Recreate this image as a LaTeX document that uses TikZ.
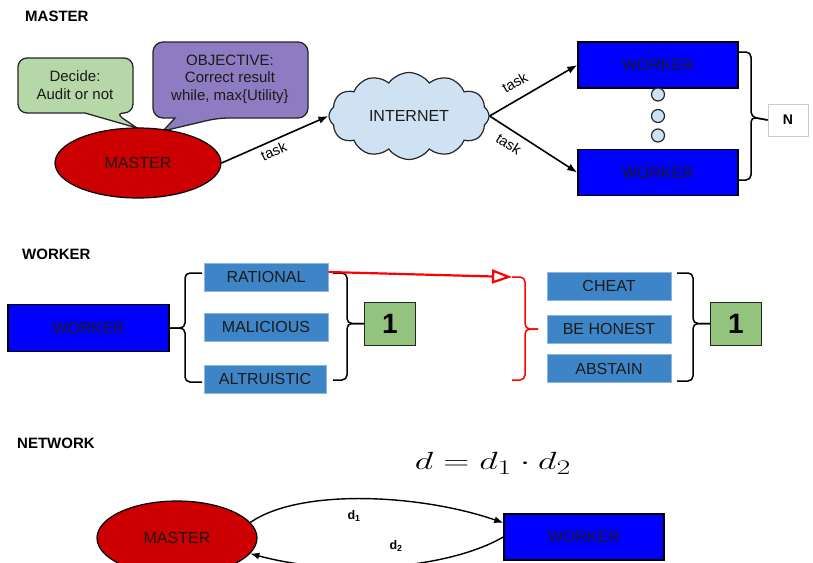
\documentclass[tikz,border=0pt]{standalone}
\usepackage{fontspec}
\setmainfont{Liberation Sans}
\usetikzlibrary{shapes.geometric,shapes.symbols,arrows.meta,calc}
\definecolor{mred}{HTML}{CC0000}
\definecolor{wblue}{HTML}{0000FF}
\definecolor{cgreen}{HTML}{B6D7A8}
\definecolor{cpurple}{HTML}{8E7CC3}
\definecolor{cloudc}{HTML}{CFE2F3}
\definecolor{bblue}{HTML}{3D85C6}
\definecolor{ngreen}{HTML}{93C47D}
\definecolor{txt}{HTML}{1A1A1A}
\begin{document}
\begin{tikzpicture}[x=1pt,y=-1pt,
  lab/.style={font=\fontsize{16}{19}\selectfont, text=txt},
  ttl/.style={font=\fontsize{15}{18}\selectfont\bfseries, anchor=west, inner sep=0pt},
  wbox/.style={draw=black, line width=1.5pt, fill=wblue, minimum width=160pt, minimum height=46pt, inner sep=0pt, lab},
  mell/.style={ellipse, draw=black, line width=1.2pt, fill=mred, inner sep=0pt, lab},
  bbox/.style={fill=bblue, draw=bblue!60!white, line width=0.6pt, minimum width=124pt, minimum height=28pt, inner sep=0pt, lab},
  nbox/.style={fill=ngreen, draw=black!85, line width=1pt, minimum width=51pt, minimum height=43pt, inner sep=0pt, font=\fontsize{28}{30}\selectfont\bfseries},
  arr/.style={line width=1.6pt, -{Latex[length=10pt,width=7.5pt]}},
  tasklab/.style={font=\fontsize{14.5}{16}\selectfont, inner sep=1pt, sloped},
  brc/.style={line width=1.5pt, rounded corners=5pt},
  rbrc/.style={line width=1.5pt, rounded corners=5pt, draw=red},
  dot/.style={circle, draw=black!85, line width=1.2pt, fill=cloudc, minimum size=13pt, inner sep=0pt},
  callout/.style={draw=black!85, line width=1.3pt}
]
\useasboundingbox (0,0) rectangle (813,562);

% ---------------- MASTER section ----------------
\node[ttl] (t1) at (25,16) {MASTER};

% callouts
\draw[callout, fill=cgreen] (75,58) [rounded corners=9pt] -- (133,58) -- (133,113) -- (115,113) [sharp corners] -- (137,128) -- (85,113) [rounded corners=9pt] -- (18,113) -- (18,58) -- cycle;
\node[lab, align=center, font=\fontsize{15}{18}\selectfont] (dec) at (75,85) {Decide:\\Audit or not};
\draw[callout, fill=cpurple] (230,42) [rounded corners=10pt] -- (308,42) -- (308,118) -- (218,118) [sharp corners] -- (163,131) -- (175,118) [rounded corners=10pt] -- (153,118) -- (153,42) -- cycle;
\node[lab, align=center, font=\fontsize{15}{17.5}\selectfont] (obj) at (230,79) {OBJECTIVE:\\Correct result\\while, max\{Utility\}};

\node[mell, minimum width=166pt, minimum height=70pt] (m1) at (138,163) {MASTER};

\node[cloud, cloud puffs=12, cloud puff arc=110, aspect=1.9, draw=black!85, line width=1.2pt, fill=cloudc, minimum width=160pt, minimum height=87pt, inner sep=0pt, lab] (net) at (409,116) {INTERNET};

\node[wbox] (w1) at (658,65) {WORKER};
\node[wbox] (w2) at (658,172.5) {WORKER};
\node[dot] (o1) at (658,94.5) {};
\node[dot] (o2) at (658,116) {};
\node[dot] (o3) at (658,135.5) {};

\node[draw=black!20, line width=0.8pt, fill=white, minimum width=40pt, minimum height=32pt, inner sep=0pt, font=\fontsize{14}{16}\selectfont\bfseries] (nn) at (788,120) {N};

\draw[arr] (m1.east) -- node[tasklab, below=3pt, pos=0.45] {task} (net.west);
\draw[arr] (net.east) -- node[tasklab, above=9pt, pos=0.38] {task} (w1.west);
\draw[arr] (net.east) -- node[tasklab, below=6pt, pos=0.3] {task} (w2.west);

\draw[brc] (739,52) -- (751,52) -- (751,117) -- (nn.west);
\draw[brc] (739,180) -- (751,180) -- (751,117) -- (nn.west);

% ---------------- WORKER section ----------------
\node[ttl] (t2) at (22,254) {WORKER};
\node[wbox, minimum width=161pt, minimum height=47pt] (wk) at (88.5,328) {WORKER};

\node[bbox] (r1) at (266,277) {RATIONAL};
\node[bbox] (r2) at (266,327) {MALICIOUS};
\node[bbox, minimum width=122pt] (r3) at (265,379) {ALTRUISTIC};

\node[nbox] (g1) at (390,323.5) {1};

\draw[brc] (202,273) -- (185,273) -- (185,328) -- (wk.east);
\draw[brc] (202,382) -- (185,382) -- (185,328) -- (wk.east);

\draw[brc] (333,273) -- (347,273) -- (347,323.5) -- (g1.west);
\draw[brc] (333,380) -- (347,380) -- (347,323.5) -- (g1.west);

\coordinate (rt) at (512,277);
\draw[red, line width=2.2pt, -{Triangle[open, length=20pt, width=14pt, line width=2.2pt]}] ([yshift=5pt]r1.east) -- (rt);

\draw[rbrc] (rt) -- (525,277) -- (525,329) -- (538,329);
\draw[rbrc] (512,380) -- (525,380) -- (525,329) -- (538,329);

\node[bbox] (c1) at (609,286) {CHEAT};
\node[bbox] (c2) at (609,329) {BE HONEST};
\node[bbox] (c3) at (609,368.5) {ABSTAIN};

\node[nbox] (g2) at (736,323.5) {1};

\draw[brc] (677,273) -- (693,273) -- (693,323.5) -- (g2.west);
\draw[brc] (677,381) -- (693,381) -- (693,323.5) -- (g2.west);

% ---------------- NETWORK section ----------------
\node[ttl] (t3) at (17,443) {NETWORK};
\node[inner sep=0pt] (eq) at (493,463) {\scalebox{1.45}[1]{\fontsize{30}{34}\selectfont$d = d_1 \cdot d_2$}};

\node[mell, minimum width=160pt, minimum height=74pt] (m2) at (177,538) {MASTER};
\node[wbox] (w3) at (584,537) {WORKER};

\draw[line width=1.4pt, -{Latex[length=9pt,width=7pt]}] (m2.12) .. controls (300,488) and (420,494) .. (w3.170);
\draw[line width=1.4pt, -{Latex[length=9pt,width=7pt]}] (w3.west) .. controls (450,568) and (340,578) .. (m2.-12);
\node[font=\fontsize{12.5}{14}\selectfont] (l1) at (354,516) {$\mathbf{d_1}$};
\node[font=\fontsize{12.5}{14}\selectfont] (l2) at (396,546) {$\mathbf{d_2}$};
\end{tikzpicture}
\end{document}
